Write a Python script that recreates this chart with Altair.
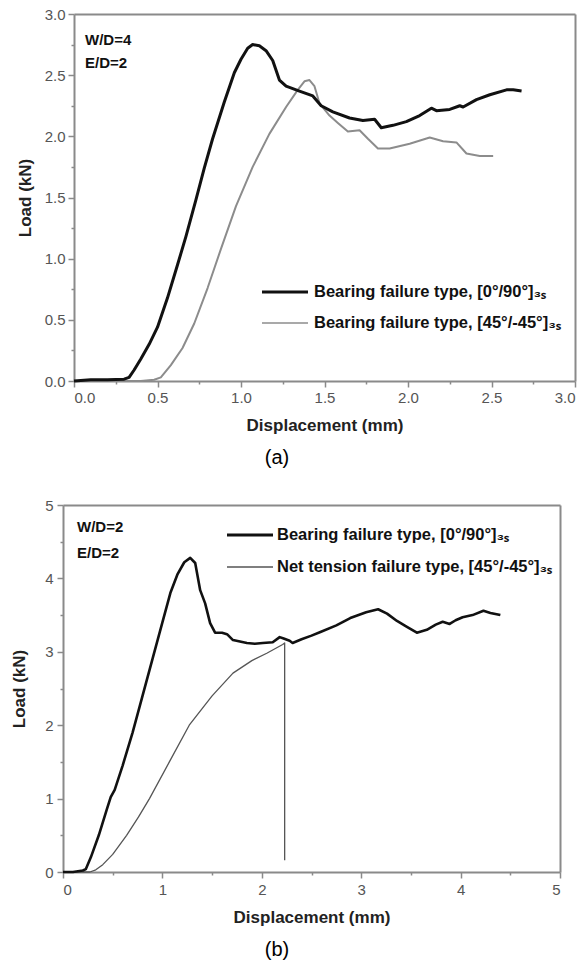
import altair as alt
import pandas as pd

# ---------------- data ----------------
# Panel (a): W/D=4, E/D=2
a_090_x = [0.00, 0.10, 0.20, 0.30, 0.33, 0.36, 0.40, 0.45, 0.50, 0.56, 0.62, 0.67, 0.73, 0.78, 0.83,
           0.90, 0.96, 1.00, 1.04, 1.07, 1.11, 1.15, 1.19, 1.23, 1.27, 1.35, 1.43, 1.48, 1.55, 1.65,
           1.73, 1.80, 1.84, 1.91, 1.99, 2.07, 2.14, 2.17, 2.25, 2.31, 2.33, 2.41, 2.49, 2.59, 2.63, 2.68]
a_090_y = [0.00, 0.01, 0.01, 0.015, 0.03, 0.09, 0.18, 0.30, 0.44, 0.68, 0.95, 1.18, 1.48, 1.74, 1.98,
           2.28, 2.52, 2.63, 2.72, 2.75, 2.74, 2.70, 2.62, 2.46, 2.41, 2.37, 2.33, 2.25, 2.20, 2.15,
           2.13, 2.14, 2.07, 2.09, 2.12, 2.17, 2.23, 2.21, 2.22, 2.25, 2.24, 2.30, 2.34, 2.38, 2.38, 2.37]
a_45_x = [0.00, 0.20, 0.40, 0.48, 0.52, 0.58, 0.65, 0.72, 0.80, 0.88, 0.97, 1.07, 1.17, 1.27, 1.34,
          1.38, 1.41, 1.44, 1.47, 1.53, 1.58, 1.64, 1.71, 1.76, 1.82, 1.89, 2.01, 2.13, 2.21, 2.29,
          2.35, 2.43, 2.51]
a_45_y = [0.00, 0.00, 0.00, 0.01, 0.03, 0.13, 0.27, 0.47, 0.76, 1.08, 1.43, 1.75, 2.02, 2.24, 2.38,
          2.45, 2.46, 2.41, 2.27, 2.17, 2.11, 2.04, 2.05, 1.98, 1.90, 1.90, 1.94, 1.99, 1.96, 1.95,
          1.86, 1.84, 1.84]

# Panel (b): W/D=2, E/D=2
b_090_x = [0.00, 0.10, 0.20, 0.23, 0.28, 0.36, 0.44, 0.48, 0.52, 0.60, 0.70, 0.80, 0.90, 1.00, 1.08,
           1.15, 1.22, 1.28, 1.33, 1.38, 1.43, 1.48, 1.53, 1.60, 1.65, 1.71, 1.78, 1.85, 1.93, 2.01,
           2.11, 2.18, 2.22, 2.28, 2.31, 2.40, 2.50, 2.59, 2.75, 2.89, 3.05, 3.17, 3.26, 3.36, 3.46,
           3.56, 3.66, 3.75, 3.82, 3.89, 3.95, 4.02, 4.12, 4.23, 4.30, 4.40]
b_090_y = [0.00, 0.00, 0.02, 0.04, 0.20, 0.50, 0.85, 1.02, 1.12, 1.45, 1.90, 2.40, 2.90, 3.40, 3.80,
           4.05, 4.22, 4.28, 4.21, 3.84, 3.66, 3.39, 3.26, 3.26, 3.24, 3.16, 3.14, 3.12, 3.11, 3.12,
           3.13, 3.20, 3.18, 3.15, 3.12, 3.17, 3.22, 3.27, 3.36, 3.46, 3.54, 3.58, 3.52, 3.42, 3.34,
           3.26, 3.30, 3.37, 3.41, 3.38, 3.43, 3.47, 3.50, 3.56, 3.53, 3.50]
b_45_x = [0.00, 0.27, 0.33, 0.40, 0.50, 0.64, 0.76, 0.87, 1.07, 1.27, 1.50, 1.71, 1.90, 2.05, 2.21,
          2.23, 2.23]
b_45_y = [0.00, 0.00, 0.03, 0.10, 0.24, 0.50, 0.75, 1.00, 1.50, 2.00, 2.40, 2.71, 2.88, 2.98, 3.10,
          3.12, 0.16]

a_ticks = [i * 0.25 for i in range(13)]
b_ticks = [i * 0.5 for i in range(11)]

legend_a = ["Bearing failure type, [0°/90°]₃ₛ", "Bearing failure type, [45°/-45°]₃ₛ"]
legend_b = ["Bearing failure type, [0°/90°]₃ₛ", "Net tension failure type, [45°/-45°]₃ₛ"]
note_a = ["W/D=4", "E/D=2"]
note_b = ["W/D=2", "E/D=2"]

# ---------------- styling / layout ----------------
FONT = "Liberation Sans"
FRAME = "#8a8a8a"
LABEL = "#555555"
BLACK = "#111111"
GREY_A = "#8c8c8c"
GREY_B = "#555555"
FS = 16.5

# one view holding both panels; panel (a) plot area is the top of it,
# panel (b) plot area sits lower and 11 px further left
W, H = 501, 858
A_W, A_H = 501, 367
B_X0, B_X1, B_Y0, B_Y1 = -11, 486, 491, 858

dummy = pd.DataFrame({"d": [0]})


def curves(pairs):
    rows = []
    for name, xs, ys in pairs:
        for i, (x, y) in enumerate(zip(xs, ys)):
            rows.append({"x": x, "y": y, "s": name, "i": i})
    return pd.DataFrame(rows)


df_a = curves([("a45", a_45_x, a_45_y), ("a090", a_090_x, a_090_y)])
df_b = curves([("b45", b_45_x, b_45_y), ("b090", b_090_x, b_090_y)])


def data_axis(title, ticks, major, fmt, orient, offset, label_pad, title_pad):
    return alt.Axis(
        title=title,
        orient=orient,
        offset=offset,
        values=ticks,
        labelExpr=f"datum.value % {major} ? '' : format(datum.value, '{fmt}')",
        tickSize={"condition": {"test": f"datum.value % {major} != 0", "value": 3}, "value": 6},
        labelPadding=label_pad,
        titlePadding=title_pad,
        labelOverlap=False,
        grid=False,
    )


def frame_axis(orient, offset):
    return alt.Axis(orient=orient, offset=offset, ticks=False, labels=False, title="", grid=False)


def text(t, x, y, size, weight="bold", color=BLACK, align="left"):
    return alt.Chart(dummy).mark_text(
        text=t, font=FONT, fontSize=size, fontWeight=weight, color=color, align=align, baseline="middle"
    ).encode(x=alt.value(x), y=alt.value(y))


def swatch(x1, x2, y, color, w):
    return alt.Chart(dummy).mark_rule(color=color, strokeWidth=w).encode(
        x=alt.value(x1), x2=alt.value(x2), y=alt.value(y)
    )


xs_a = alt.Scale(domain=[0, 3], range=[0, A_W], nice=False, zero=False)
ys_a = alt.Scale(domain=[0, 3], range=[A_H, 0], nice=False, zero=False)
xs_b = alt.Scale(domain=[0, 5], range=[B_X0, B_X1], nice=False, zero=False)
ys_b = alt.Scale(domain=[0, 5], range=[B_Y1, B_Y0], nice=False, zero=False)

lines_a = alt.Chart(df_a).mark_line(strokeJoin="round").encode(
    x=alt.X("x:Q", scale=xs_a, axis=data_axis("Displacement (mm)", a_ticks, 0.5, ".1f", "bottom", A_H - H, 3, 12)),
    y=alt.Y("y:Q", scale=ys_a, axis=data_axis("Load (kN)", a_ticks, 0.5, ".1f", "left", 0, 3, 10)),
    color=alt.Color("s:N", scale=alt.Scale(domain=["a45", "a090"], range=[GREY_A, BLACK]), legend=None),
    strokeWidth=alt.StrokeWidth("s:N", scale=alt.Scale(domain=["a45", "a090"], range=[2, 3]), legend=None),
    order="i:Q",
)
frame_a = alt.Chart(df_a).mark_point(opacity=0).encode(
    x=alt.X("x:Q", scale=xs_a, axis=frame_axis("top", 0)),
    y=alt.Y("y:Q", scale=ys_a, axis=frame_axis("right", A_W - W)),
)

lines_b = alt.Chart(df_b).mark_line(strokeJoin="round").encode(
    x=alt.X("x:Q", scale=xs_b, axis=data_axis("Displacement (mm)", b_ticks, 1, "d", "bottom", 0, 4, 12)),
    y=alt.Y("y:Q", scale=ys_b, axis=data_axis("Load (kN)", b_ticks, 1, "d", "left", -B_X0, 4, 16)),
    color=alt.Color("s:N", scale=alt.Scale(domain=["b45", "b090"], range=[GREY_B, BLACK]), legend=None),
    strokeWidth=alt.StrokeWidth("s:N", scale=alt.Scale(domain=["b45", "b090"], range=[1.3, 2.6]), legend=None),
    order="i:Q",
)
frame_b = alt.Chart(df_b).mark_point(opacity=0).encode(
    x=alt.X("x:Q", scale=xs_b, axis=frame_axis("top", -B_Y0)),
    y=alt.Y("y:Q", scale=ys_b, axis=frame_axis("right", B_X1 - W)),
)

chart = (
    alt.layer(
        lines_a,
        frame_a,
        lines_b,
        frame_b,
        # panel (a) annotations
        text(note_a[0], 11, 26, 15),
        text(note_a[1], 11, 49, 15),
        swatch(188, 234, 278, BLACK, 3),
        swatch(188, 234, 309, GREY_A, 1.6),
        text(legend_a[0], 240, 278, FS),
        text(legend_a[1], 240, 309, FS),
        text("(a)", 203, 444, 20, weight="normal", color="#000000", align="center"),
        # panel (b) annotations
        text(note_b[0], 3, 513, 15),
        text(note_b[1], 3, 539, 15),
        swatch(153, 199, 521, BLACK, 3),
        swatch(153, 199, 553, GREY_B, 1.6),
        text(legend_b[0], 203, 521, FS),
        text(legend_b[1], 203, 553, FS),
        text("(b)", 203, 936, 20, weight="normal", color="#000000", align="center"),
    )
    .resolve_scale(x="independent", y="independent", color="independent", strokeWidth="independent")
    .resolve_axis(x="independent", y="independent")
    .properties(
        width=W,
        height=H,
        autosize=alt.AutoSizeParams(type="none"),
        padding={"left": 74, "top": 14, "right": 584 - 74 - W, "bottom": 962 - 14 - H},
        background="white",
    )
    .configure_view(stroke=None)
    .configure_axis(
        domainColor=FRAME,
        domainWidth=2,
        tickColor=FRAME,
        tickWidth=1.5,
        labelFont=FONT,
        labelFontSize=15,
        labelColor=LABEL,
        titleFont=FONT,
        titleFontSize=17,
        titleFontWeight="bold",
        titleColor="#222222",
    )
)

chart.save("out.html", embed_options={"renderer": "svg", "actions": False})
